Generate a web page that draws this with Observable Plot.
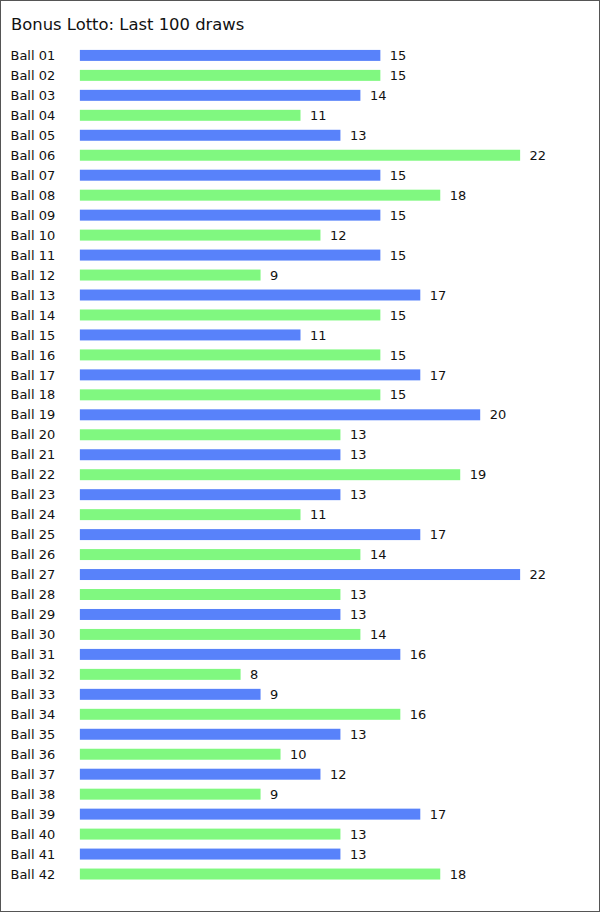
<!DOCTYPE html>
<html>
<head>
<meta charset="utf-8">
<script src="https://cdn.jsdelivr.net/npm/d3@7"></script>
<script src="https://cdn.jsdelivr.net/npm/@observablehq/plot@0.6"></script>
<style>
  html, body { margin: 0; padding: 0; background: #fff; }
  #wrap { position: relative; width: 600px; height: 912px; box-sizing: border-box; border: 1px solid #555; overflow: hidden; }
  #title { position: absolute; left: 10px; top: 14px; font-family: "DejaVu Sans", sans-serif; font-size: 16.4px; color: #111; white-space: nowrap; }
  #chart { position: absolute; left: -1px; top: -1px; }
</style>
</head>
<body>
<div id="wrap">
  <div id="title">Bonus Lotto: Last 100 draws</div>
  <div id="chart"></div>
</div>
<script>
const balls = ["Ball 01","Ball 02","Ball 03","Ball 04","Ball 05","Ball 06","Ball 07","Ball 08","Ball 09","Ball 10",
  "Ball 11","Ball 12","Ball 13","Ball 14","Ball 15","Ball 16","Ball 17","Ball 18","Ball 19","Ball 20",
  "Ball 21","Ball 22","Ball 23","Ball 24","Ball 25","Ball 26","Ball 27","Ball 28","Ball 29","Ball 30",
  "Ball 31","Ball 32","Ball 33","Ball 34","Ball 35","Ball 36","Ball 37","Ball 38","Ball 39","Ball 40",
  "Ball 41","Ball 42"];
const counts = [15,15,14,11,13,22,15,18,15,12,15,9,17,15,11,15,17,15,20,13,13,19,13,11,17,14,22,13,13,14,16,8,9,16,13,10,12,9,17,13,13,18];
const colors = ["#5882fa", "#80f880"];

const data = balls.map((b, i) => ({ball: b, count: counts[i], color: colors[i % 2]}));

const chart = Plot.plot({
  width: 600,
  height: 912,
  marginLeft: 10,
  marginRight: 0,
  marginTop: 0,
  marginBottom: 0,
  style: { fontFamily: "DejaVu Sans, sans-serif", fontSize: "13px", color: "#111", background: "transparent" },
  x: { domain: [0, 22], range: [80, 520], axis: null },
  y: { domain: balls, range: [45.5, 885.5], paddingInner: 0.45, paddingOuter: 0.225, axis: null },
  marks: [
    Plot.barX(data, { y: "ball", x: "count", fill: "color", insetRight: -1 }),
    Plot.text(data, { y: "ball", text: "ball", frameAnchor: "left", textAnchor: "start", fill: "#111" }),
    Plot.text(data, { y: "ball", x: "count", text: d => String(d.count), textAnchor: "start", dx: 10, fill: "#111" })
  ]
});
document.getElementById("chart").appendChild(chart);
</script>
</body>
</html>
